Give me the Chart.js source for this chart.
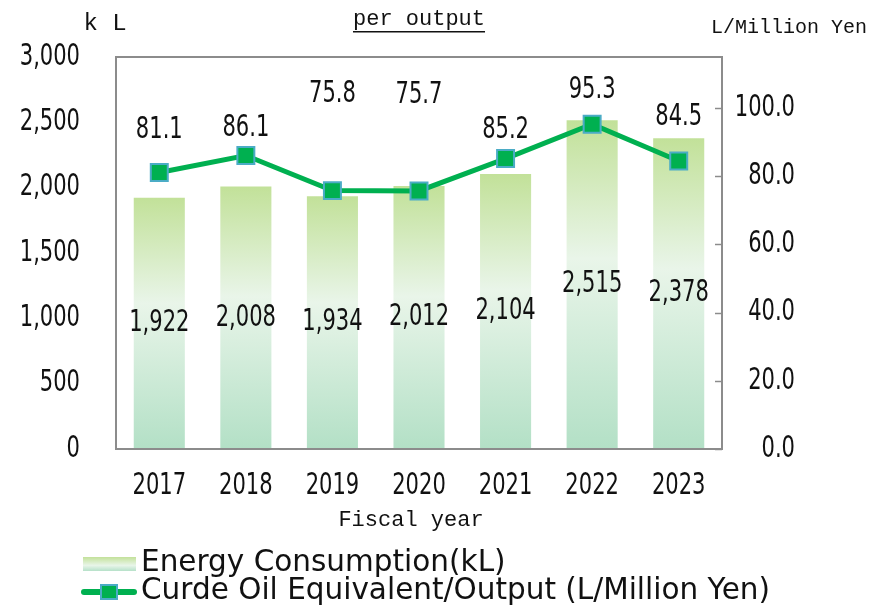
<!DOCTYPE html>
<html><head><meta charset="utf-8">
<script src="https://cdn.jsdelivr.net/npm/chart.js@4.4.1/dist/chart.umd.min.js"></script>
<style>
html,body{margin:0;padding:0;background:#fff;}
#wrap{position:relative;width:870px;height:605px;overflow:hidden;background:#fff;}
#c{position:absolute;left:0;top:0;}
#legend{position:absolute;left:81px;top:547px;font-family:"DejaVu Sans",sans-serif;font-size:29.5px;line-height:28px;color:#111;}
.row{display:flex;align-items:center;height:28px;white-space:nowrap}
.sw1{position:relative;top:3px;width:53px;height:14px;margin-left:2px;background:linear-gradient(#c3e19a,#e8f5e9 60%,#b6e1c9);margin-right:5px}
.sw2{position:relative;top:3px;width:56px;height:18px;margin-right:4px}
.sw2 .ln{position:absolute;left:0;right:0;top:6px;height:6px;background:#00b050;border-radius:3px}
.sw2 .mk{position:absolute;left:19px;top:1px;width:14px;height:12px;background:#00b050;border:2px solid #4bacc6}
</style></head>
<body>
<div id="wrap">
<canvas id="c" width="870" height="545"></canvas>
<div id="legend">
  <div class="row"><div class="sw1"></div><span>Energy Consumption(kL)</span></div>
  <div class="row"><div class="sw2"><div class="ln"></div><div class="mk"></div></div><span>Curde Oil Equivalent/Output (L/Million Yen)</span></div>
</div>
</div>
<script>
const categories = ['2017','2018','2019','2020','2021','2022','2023'];
const energyConsumption = [1922, 2008, 1934, 2012, 2104, 2515, 2378];
const perOutput = [81.1, 86.1, 75.8, 75.7, 85.2, 95.3, 84.5];
const leftTicks = [0, 500, 1000, 1500, 2000, 2500, 3000];
const rightTicks = [0, 20, 40, 60, 80, 100];

const NUM_FONT = '"DejaVu Sans Condensed","Liberation Sans",sans-serif';
const MONO_FONT = '"Liberation Mono","DejaVu Sans Mono",monospace';
const NUM_SIZE = 30;
const NUM_SQUEEZE = 0.78;
const lineLabelOffsets = [-42, -27, -96, -96, -28, -34, -44];

const canvas = document.getElementById('c');
const cctx = canvas.getContext('2d');
// narrow the condensed number font horizontally, like the reference's compressed digits
const origFillText = cctx.fillText;
cctx.fillText = function(text, x, y, maxWidth){
  if (String(this.font).indexOf('Condensed') >= 0) {
    this.save();
    this.translate(x, y);
    this.scale(NUM_SQUEEZE, 1);
    origFillText.call(this, text, 0, 0);
    this.restore();
  } else if (maxWidth !== undefined) {
    origFillText.call(this, text, x, y, maxWidth);
  } else {
    origFillText.call(this, text, x, y);
  }
};

function barGradient(c){
  const chart = c.chart;
  const a = chart.chartArea;
  if (!a) return '#c8e6b0';
  const top = chart.scales.y.getPixelForValue(c.raw);
  const g = chart.ctx.createLinearGradient(0, top, 0, a.bottom);
  g.addColorStop(0, '#c2e199');
  g.addColorStop(0.42, '#e9f5e9');
  g.addColorStop(1, '#b3e0c6');
  return g;
}

const annot = {
  id: 'annot',
  afterDatasetsDraw(chart){
    const {ctx, chartArea:a, scales} = chart;
    ctx.save();
    ctx.strokeStyle = '#8c8c8c';
    ctx.lineWidth = 2;
    ctx.strokeRect(a.left, a.top, a.right - a.left, a.bottom - a.top);
    ctx.lineWidth = 1.5;
    rightTicks.forEach(v => {
      const y = Math.round(scales.y2.getPixelForValue(v)) + 0.5;
      ctx.beginPath(); ctx.moveTo(a.right - 7, y); ctx.lineTo(a.right, y); ctx.stroke();
    });
    ctx.fillStyle = '#111';
    ctx.font = NUM_SIZE + 'px ' + NUM_FONT;
    ctx.textAlign = 'center';
    ctx.textBaseline = 'middle';
    const barMeta = chart.getDatasetMeta(0);
    barMeta.data.forEach((el, i) => {
      ctx.fillText(energyConsumption[i].toLocaleString('en-US'), el.x, (el.y + el.base) / 2);
    });
    const lineMeta = chart.getDatasetMeta(1);
    lineMeta.data.forEach((el, i) => {
      ctx.fillText(perOutput[i].toFixed(1), el.x, el.y + lineLabelOffsets[i]);
    });
    ctx.restore();
  },
  afterDraw(chart){
    const {ctx, chartArea:a} = chart;
    ctx.save();
    ctx.fillStyle = '#111';
    ctx.textBaseline = 'middle';
    ctx.font = '24px ' + MONO_FONT;
    ctx.textAlign = 'center';
    ctx.fillText('k L', a.left - 11, 24);
    const cx = (a.left + a.right) / 2;
    ctx.font = '22px ' + MONO_FONT;
    ctx.fillText('per output', cx, 19);
    const w = ctx.measureText('per output').width;
    ctx.fillRect(cx - w/2, 31, w, 1.5);
    ctx.fillText('Fiscal year', cx - 8, 520);
    ctx.font = '20px ' + MONO_FONT;
    ctx.textAlign = 'right';
    ctx.fillText('L/Million Yen', 867, 28);
    ctx.restore();
  }
};

new Chart(canvas, {
  data: {
    labels: categories,
    datasets: [
      {
        type: 'bar',
        label: 'Energy Consumption(kL)',
        data: energyConsumption,
        yAxisID: 'y',
        backgroundColor: barGradient,
        borderWidth: 0,
        barPercentage: 0.59,
        categoryPercentage: 1.0,
        order: 2
      },
      {
        type: 'line',
        label: 'Curde Oil Equivalent/Output (L/Million Yen)',
        data: perOutput,
        yAxisID: 'y2',
        borderColor: '#00b050',
        borderWidth: 5,
        tension: 0,
        pointStyle: 'rect',
        pointRadius: 12,
        pointBackgroundColor: '#00b050',
        pointBorderColor: '#4bacc6',
        pointBorderWidth: 2,
        order: 1
      }
    ]
  },
  options: {
    responsive: false,
    animation: false,
    layout: { padding: { left: 0, right: 75, top: 57, bottom: 0 } },
    plugins: { legend: { display: false }, tooltip: { enabled: false } },
    scales: {
      x: {
        grid: { display: false },
        border: { display: false },
        ticks: { color: '#111', font: { family: NUM_FONT, size: NUM_SIZE }, padding: 11, autoSkip: false, maxRotation: 0 },
        afterFit(s){ s.height = 96; }
      },
      y: {
        position: 'left',
        min: 0, max: 3000,
        afterBuildTicks(s){ s.ticks = leftTicks.map(v => ({ value: v })); },
        ticks: { color: '#111', font: { family: NUM_FONT, size: NUM_SIZE }, padding: 28, callback: v => v.toLocaleString('en-US') },
        grid: { display: false },
        border: { display: false },
        afterFit(s){ s.width = 116; }
      },
      y2: {
        position: 'right',
        min: 0, max: 115,
        afterBuildTicks(s){ s.ticks = rightTicks.map(v => ({ value: v })); },
        ticks: { color: '#111', font: { family: NUM_FONT, size: NUM_SIZE }, crossAlign: 'far', callback: v => Number(v).toFixed(1) },
        grid: { display: false },
        border: { display: false },
        afterFit(s){ s.width = 73; }
      }
    }
  },
  plugins: [annot]
});
</script>
</body></html>
